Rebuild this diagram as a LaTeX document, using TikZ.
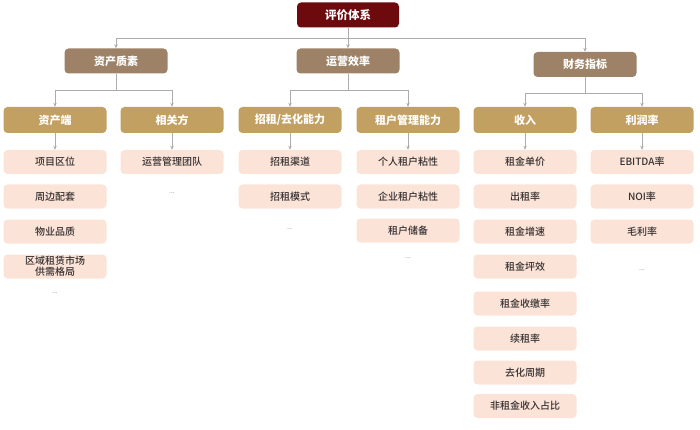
\documentclass[tikz,border=0pt]{standalone}
\usepackage{fontspec}
\setmainfont{Noto Sans CJK SC}
\newfontfamily\leaffont{Noto Sans CJK SC}[UprightFont=* Medium]
\usetikzlibrary{arrows.meta, positioning, calc}
\definecolor{cRoot}{RGB}{108,10,14}
\definecolor{cGroup}{RGB}{157,130,103}
\definecolor{cSub}{RGB}{194,160,98}
\definecolor{cLeaf}{RGB}{251,227,215}
\definecolor{cText}{RGB}{55,50,50}
\definecolor{cLine}{RGB}{172,172,172}
\tikzset{
	rootbox/.style ={rectangle, rounded corners=4pt, minimum width=102pt, minimum height=25pt, text centered, fill=cRoot, text=white, font=\fontsize{11.5}{13}\selectfont\bfseries},
	groupbox/.style={rectangle, rounded corners=4pt, minimum width=103pt, minimum height=25pt, text centered, fill=cGroup, text=white, font=\fontsize{11}{13}\selectfont\bfseries},
	subbox/.style  ={rectangle, rounded corners=4pt, minimum width=103pt, minimum height=26pt, text centered, fill=cSub, text=white, font=\fontsize{11}{13}\selectfont\bfseries},
	leafbox/.style ={rectangle, rounded corners=4pt, minimum width=103pt, minimum height=24pt, inner sep=1pt, align=center, fill=cLeaf, text=cText, font=\leaffont\fontsize{10}{11}\selectfont},
	moredots/.style={text=gray, font=\fontsize{7}{8}\selectfont},
	bus/.style     ={draw=cLine, line width=0.9pt},
	conn/.style    ={draw=cLine, line width=0.9pt, -{Stealth[length=4pt, width=3.5pt]}},
}

\begin{document}
\begin{tikzpicture}[x=1pt, y=-1pt]
	\useasboundingbox (0,0) rectangle (700,430);
	% top levels
	\node[rootbox] (root) at (348,15) {评价体系};
	\node[groupbox] (nAsset) at (116,61) {资产质素};
	\node[groupbox] (nOper) at (348,61) {运营效率};
	\node[groupbox] (nFin) at (585,64.5) {财务指标};
	\node[subbox] (nAssetEnd) at (55,120) {资产端};
	\node[subbox] (nParty) at (172,120) {相关方};
	\node[subbox] (nLease) at (290,120) {招租/去化能力};
	\node[subbox] (nTenant) at (408,120) {租户管理能力};
	\node[subbox] (nIncome) at (525,120) {收入};
	\node[subbox] (nProfit) at (642,120) {利润率};

	\coordinate (b0) at (348,38);
	\draw[bus] (root.south) -- (b0);
	\foreach \t in {nAsset, nOper, nFin}
		\draw[conn] (b0) -| (\t.north);
	\foreach \p/\t/\d in {nAsset/nAssetEnd/17, nAsset/nParty/17, nOper/nLease/17, nOper/nTenant/17, nFin/nIncome/16, nFin/nProfit/16}
		\draw[conn] (\p.south) -- ++(0,\d) -| (\t.north);

	% leaves
	\foreach \y/\lab [count=\i] in {162/项目区位, 196.5/周边配套, 231.5/物业品质, 266.5/{区域租赁市场\\供需格局}}
		\node[leafbox] (a\i) at (55,\y) {\lab};
	\node[leafbox] (p1) at (172,162) {运营管理团队};
	\foreach \y/\lab [count=\i] in {162/招租渠道, 196.5/招租模式}
		\node[leafbox] (l\i) at (290,\y) {\lab};
	\foreach \y/\lab [count=\i] in {162/个人租户粘性, 196.5/企业租户粘性, 230.5/租户储备}
		\node[leafbox] (t\i) at (408,\y) {\lab};
	\foreach \y/\lab [count=\i] in {162/租金单价, 196.5/出租率, 231.5/租金增速, 266.5/租金坪效, 303.5/租金收缴率, 338.5/续租率, 372.5/去化周期, 406/非租金收入占比}
		\node[leafbox] (r\i) at (525,\y) {\lab};
	\foreach \y/\lab [count=\i] in {162/EBITDA率, 196.5/NOI率, 231.5/毛利率}
		\node[leafbox] (m\i) at (642,\y) {\lab};

	\foreach \s/\t in {nAssetEnd/a1, nParty/p1, nLease/l1, nTenant/t1, nIncome/r1, nProfit/m1}
		\draw[conn] (\s.south) -- (\t.north);

	\node[moredots] (da) at (55,293) {...};
	\node[moredots] (dp) at (172,193) {...};
	\node[moredots] (dl) at (290,229) {...};
	\node[moredots] (dt) at (408,258) {...};
	\node[moredots] (dm) at (642,270) {...};
\end{tikzpicture}
\end{document}
